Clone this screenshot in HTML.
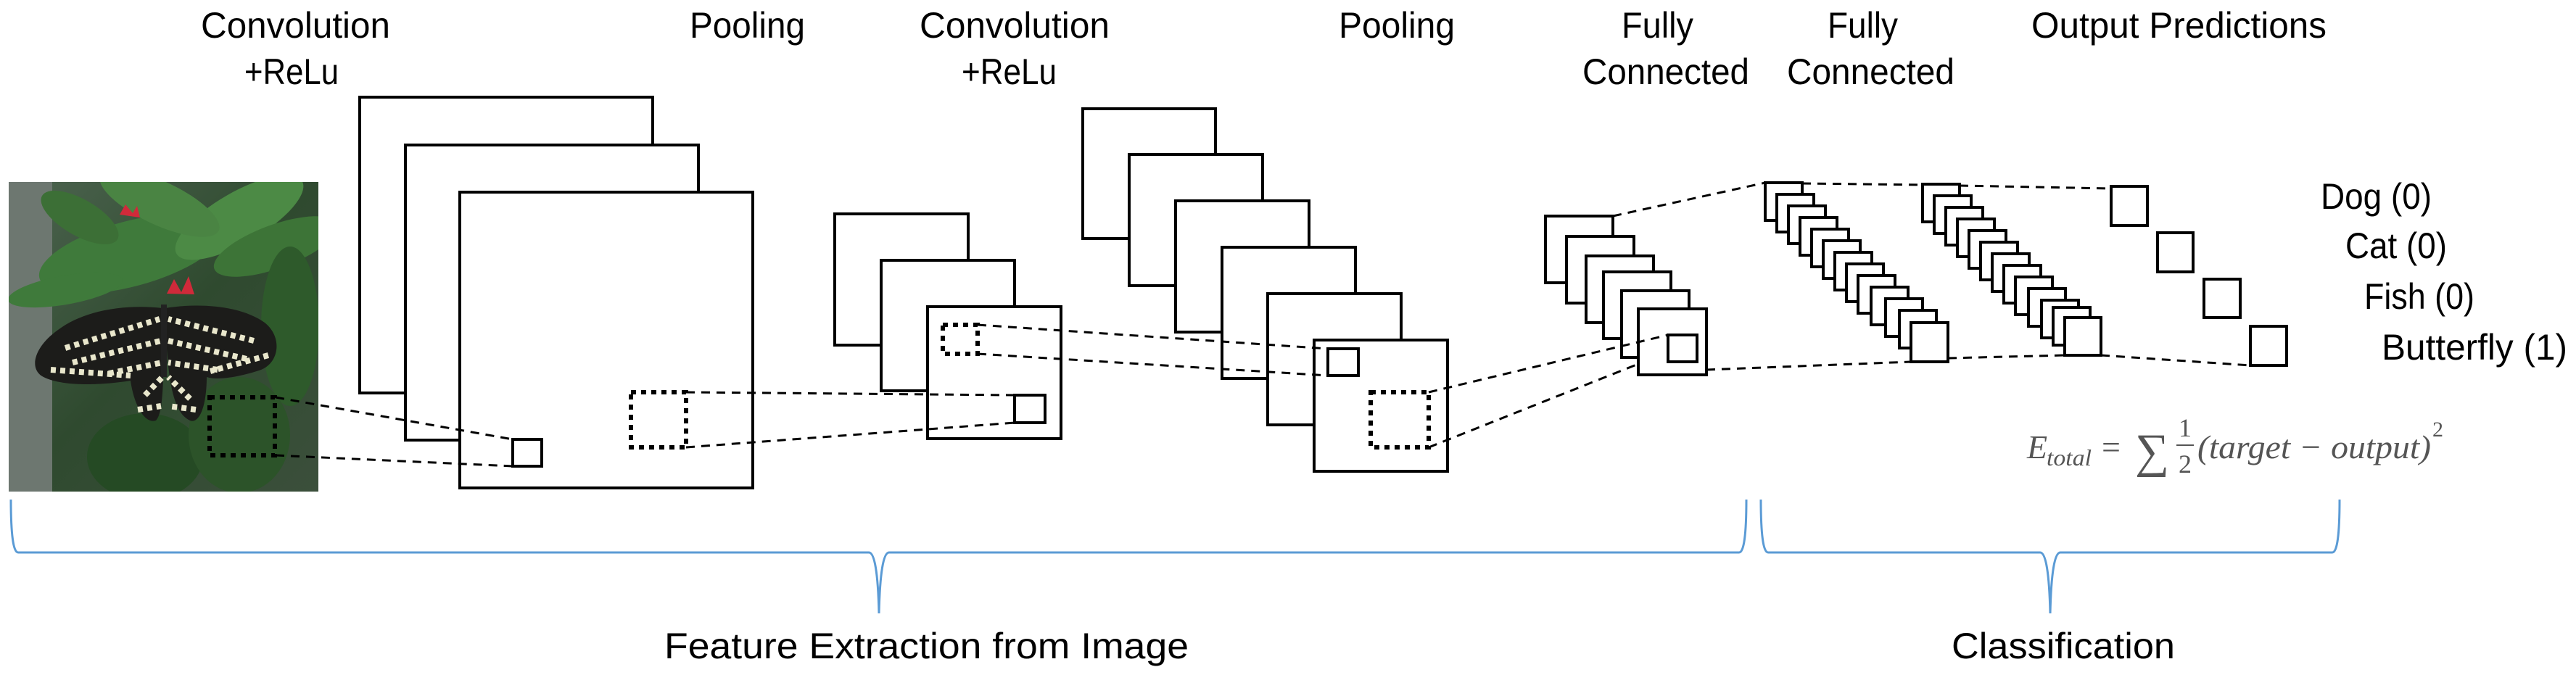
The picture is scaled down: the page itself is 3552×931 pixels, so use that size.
<!DOCTYPE html>
<html><head><meta charset="utf-8"><style>
html,body{margin:0;padding:0;background:#fff;}
svg{display:block;}
text{font-family:"Liberation Sans",sans-serif;fill:#000;}
</style></head><body>
<svg width="3552" height="931" viewBox="0 0 3552 931" xmlns="http://www.w3.org/2000/svg">
<defs>
<clipPath id="pc"><rect x="12" y="251" width="427" height="427"/></clipPath>
<linearGradient id="bg" x1="0" y1="0" x2="1" y2="1"><stop offset="0" stop-color="#4d6450"/><stop offset="0.5" stop-color="#2f4a2f"/><stop offset="1" stop-color="#3b4f3b"/></linearGradient>
</defs>
<!-- photo -->
<g clip-path="url(#pc)">
<rect x="12" y="251" width="427" height="427" fill="url(#bg)"/>
<rect x="12" y="251" width="60" height="427" fill="#6d7770"/>
<ellipse cx="180" cy="350" rx="130" ry="45" fill="#3f7a3b" transform="rotate(-15 180 350)"/>
<ellipse cx="330" cy="300" rx="100" ry="35" fill="#4c8a45" transform="rotate(-30 330 300)"/>
<ellipse cx="380" cy="340" rx="90" ry="30" fill="#3d7437" transform="rotate(-20 380 340)"/>
<ellipse cx="220" cy="280" rx="90" ry="30" fill="#4a8443" transform="rotate(25 220 280)"/>
<ellipse cx="110" cy="300" rx="60" ry="25" fill="#3c6f36" transform="rotate(30 110 300)"/>
<ellipse cx="400" cy="450" rx="40" ry="110" fill="#2e5a2b"/>
<ellipse cx="200" cy="630" rx="80" ry="60" fill="#254a24"/>
<ellipse cx="330" cy="600" rx="70" ry="80" fill="#2c5329"/>
<ellipse cx="90" cy="400" rx="80" ry="20" fill="#3f7a3b" transform="rotate(-10 90 400)"/>
<path d="M230 405 l10 -20 l10 18 l10 -22 l8 25 z" fill="#d02a3a"/>
<path d="M165 296 l8 -14 l10 12 l6 -10 l4 16 z" fill="#d02a3a"/>
<!-- butterfly -->
<path d="M224 425 C180 420 120 425 80 455 C45 480 40 510 60 520 C90 535 150 530 180 525 C185 560 200 585 215 580 C225 570 226 530 226 430 Z" fill="#1c1c1a"/>
<path d="M228 425 C270 418 330 420 365 445 C390 465 385 500 360 510 C330 520 300 525 285 520 C285 560 275 585 262 580 C240 570 230 530 228 430 Z" fill="#1c1c1a"/>
<g fill="none" stroke="#e9e7cc" stroke-width="8" stroke-dasharray="7 6">
<path d="M90 480 L220 440 M100 500 L222 470 M150 515 L224 500 M200 545 L224 520 M190 565 L222 560 M70 510 L180 518"/>
<path d="M350 470 L232 440 M340 495 L232 470 M300 510 L232 500 M262 550 L232 520 M270 565 L232 560 M370 490 L290 512"/>
</g>
<rect x="222" y="420" width="8" height="100" fill="#222"/>
</g>
<rect x="289" y="548" width="90" height="80" fill="none" stroke="#000" stroke-width="6" stroke-dasharray="7 7"/>

<g fill="#fff" stroke="#000" stroke-width="4">
<rect x="496" y="134" width="404" height="408"/>
<rect x="559" y="200" width="404" height="407"/>
<rect x="634" y="265" width="404" height="408"/>
<rect x="707" y="606" width="40" height="37"/>
<rect x="1151" y="295" width="184" height="181"/>
<rect x="1215" y="359" width="184" height="180"/>
<rect x="1279" y="423" width="184" height="182"/>
<rect x="1399" y="545" width="42" height="38"/>
<rect x="1493" y="150" width="183" height="179"/>
<rect x="1557" y="213" width="184" height="181"/>
<rect x="1621" y="277" width="184" height="181"/>
<rect x="1685" y="341" width="184" height="181"/>
<rect x="1748" y="405" width="184" height="181"/>
<rect x="1812" y="469" width="184" height="181"/>
<rect x="1831" y="481" width="42" height="37"/>
<rect x="2131" y="298" width="93" height="92"/>
<rect x="2160" y="326" width="93" height="92"/>
<rect x="2187" y="353" width="93" height="92"/>
<rect x="2211" y="375" width="93" height="92"/>
<rect x="2236" y="401" width="93" height="92"/>
<rect x="2259" y="426" width="94" height="91"/>
<rect x="2300" y="462" width="40" height="37"/>
</g>
<g fill="none" stroke="#000" stroke-width="6" stroke-dasharray="7 7">
<rect x="870" y="541" width="76" height="76"/>
<rect x="1300" y="448" width="48" height="40"/>
<rect x="1890" y="541" width="80" height="76"/>
</g>
<g fill="#fff" stroke="#000" stroke-width="4">
<rect x="2434" y="252" width="51" height="52"/>
<rect x="2450" y="268" width="51" height="52"/>
<rect x="2466" y="284" width="51" height="52"/>
<rect x="2482" y="300" width="51" height="52"/>
<rect x="2498" y="316" width="51" height="52"/>
<rect x="2514" y="332" width="51" height="52"/>
<rect x="2530" y="348" width="51" height="52"/>
<rect x="2546" y="364" width="51" height="52"/>
<rect x="2562" y="380" width="51" height="52"/>
<rect x="2580" y="396" width="51" height="52"/>
<rect x="2600" y="412" width="51" height="52"/>
<rect x="2619" y="428" width="51" height="52"/>
<rect x="2635" y="445" width="51" height="54"/>
<rect x="2651" y="254" width="51" height="52"/>
<rect x="2667" y="270" width="51" height="52"/>
<rect x="2683" y="286" width="51" height="52"/>
<rect x="2699" y="302" width="51" height="52"/>
<rect x="2715" y="318" width="51" height="52"/>
<rect x="2731" y="334" width="51" height="52"/>
<rect x="2747" y="350" width="51" height="52"/>
<rect x="2763" y="366" width="51" height="52"/>
<rect x="2779" y="382" width="51" height="52"/>
<rect x="2797" y="398" width="51" height="52"/>
<rect x="2815" y="414" width="51" height="52"/>
<rect x="2831" y="424" width="51" height="52"/>
<rect x="2847" y="438" width="50" height="52"/>
<rect x="2911" y="257" width="50" height="54"/>
<rect x="2975" y="321" width="49" height="54"/>
<rect x="3039" y="385" width="50" height="53"/>
<rect x="3103" y="450" width="50" height="54"/>
</g>
<g stroke="#000" stroke-width="3" stroke-dasharray="12 9" fill="none">
<line x1="380" y1="548" x2="707" y2="606"/>
<line x1="380" y1="628" x2="707" y2="643"/>
<line x1="946" y1="541" x2="1399" y2="545"/>
<line x1="946" y1="617" x2="1399" y2="583"/>
<line x1="1348" y1="448" x2="1831" y2="481"/>
<line x1="1348" y1="488" x2="1831" y2="518"/>
<line x1="1970" y1="541" x2="2300" y2="462"/>
<line x1="1970" y1="617" x2="2259" y2="502"/>
<line x1="2224" y1="298" x2="2434" y2="252"/>
<line x1="2353" y1="510" x2="2635" y2="499"/>
<line x1="2485" y1="253" x2="2651" y2="255"/>
<line x1="2686" y1="494" x2="2847" y2="490"/>
<line x1="2702" y1="256" x2="2911" y2="260"/>
<line x1="2897" y1="490" x2="3103" y2="504"/>
</g>
<g stroke="#5b9bd5" stroke-width="3" fill="none">
<path d="M15 689 Q15 762 25 762 L1198 762 Q1210 762 1212 846 Q1214 762 1226 762 L2398 762 Q2408 762 2408 689"/>
<path d="M2428 689 Q2428 762 2438 762 L2813 762 Q2825 762 2827 846 Q2829 762 2841 762 L3216 762 Q3226 762 3226 689"/>
</g>
<g font-size="50">
<text x="277" y="52" textLength="261" lengthAdjust="spacingAndGlyphs">Convolution</text>
<text x="337" y="116" textLength="130" lengthAdjust="spacingAndGlyphs">+ReLu</text>
<text x="951" y="52" textLength="159" lengthAdjust="spacingAndGlyphs">Pooling</text>
<text x="1268" y="52" textLength="262" lengthAdjust="spacingAndGlyphs">Convolution</text>
<text x="1326" y="116" textLength="131" lengthAdjust="spacingAndGlyphs">+ReLu</text>
<text x="1846" y="52" textLength="160" lengthAdjust="spacingAndGlyphs">Pooling</text>
<text x="2236" y="52" textLength="99" lengthAdjust="spacingAndGlyphs">Fully</text>
<text x="2182" y="116" textLength="230" lengthAdjust="spacingAndGlyphs">Connected</text>
<text x="2520" y="52" textLength="97" lengthAdjust="spacingAndGlyphs">Fully</text>
<text x="2464" y="116" textLength="231" lengthAdjust="spacingAndGlyphs">Connected</text>
<text x="2801" y="52" textLength="407" lengthAdjust="spacingAndGlyphs">Output Predictions</text>
<text x="3200" y="288" textLength="153" lengthAdjust="spacingAndGlyphs">Dog (0)</text>
<text x="3234" y="356" textLength="140" lengthAdjust="spacingAndGlyphs">Cat (0)</text>
<text x="3260" y="426" textLength="152" lengthAdjust="spacingAndGlyphs">Fish (0)</text>
<text x="3284" y="496" textLength="256" lengthAdjust="spacingAndGlyphs">Butterfly (1)</text>
<text x="916" y="908" textLength="723" lengthAdjust="spacingAndGlyphs">Feature Extraction from Image</text>
<text x="2691" y="908" textLength="308" lengthAdjust="spacingAndGlyphs">Classification</text>
</g>
<g style="font-family:'Liberation Serif',serif">
<text x="2795" y="632" font-size="46" font-style="italic" style="font-family:'Liberation Serif',serif;fill:#555">E</text>
<text x="2822" y="642" font-size="32" font-style="italic" style="font-family:'Liberation Serif',serif;fill:#555" textLength="62" lengthAdjust="spacingAndGlyphs">total</text>
<text x="2898" y="632" font-size="46" style="font-family:'Liberation Serif',serif;fill:#555">=</text>
<text x="2944" y="644" font-size="66" style="font-family:'Liberation Serif',serif;fill:#555">∑</text>
<text x="3004" y="602" font-size="36" style="font-family:'Liberation Serif',serif;fill:#555">1</text>
<line x1="3001" y1="614" x2="3025" y2="614" stroke="#555" stroke-width="2"/>
<text x="3004" y="652" font-size="36" style="font-family:'Liberation Serif',serif;fill:#555">2</text>
<text x="3030" y="632" font-size="46" font-style="italic" style="font-family:'Liberation Serif',serif;fill:#555" textLength="322" lengthAdjust="spacingAndGlyphs">(target − output)</text>
<text x="3354" y="602" font-size="30" style="font-family:'Liberation Serif',serif;fill:#555">2</text>
</g>
</svg>
</body></html>
